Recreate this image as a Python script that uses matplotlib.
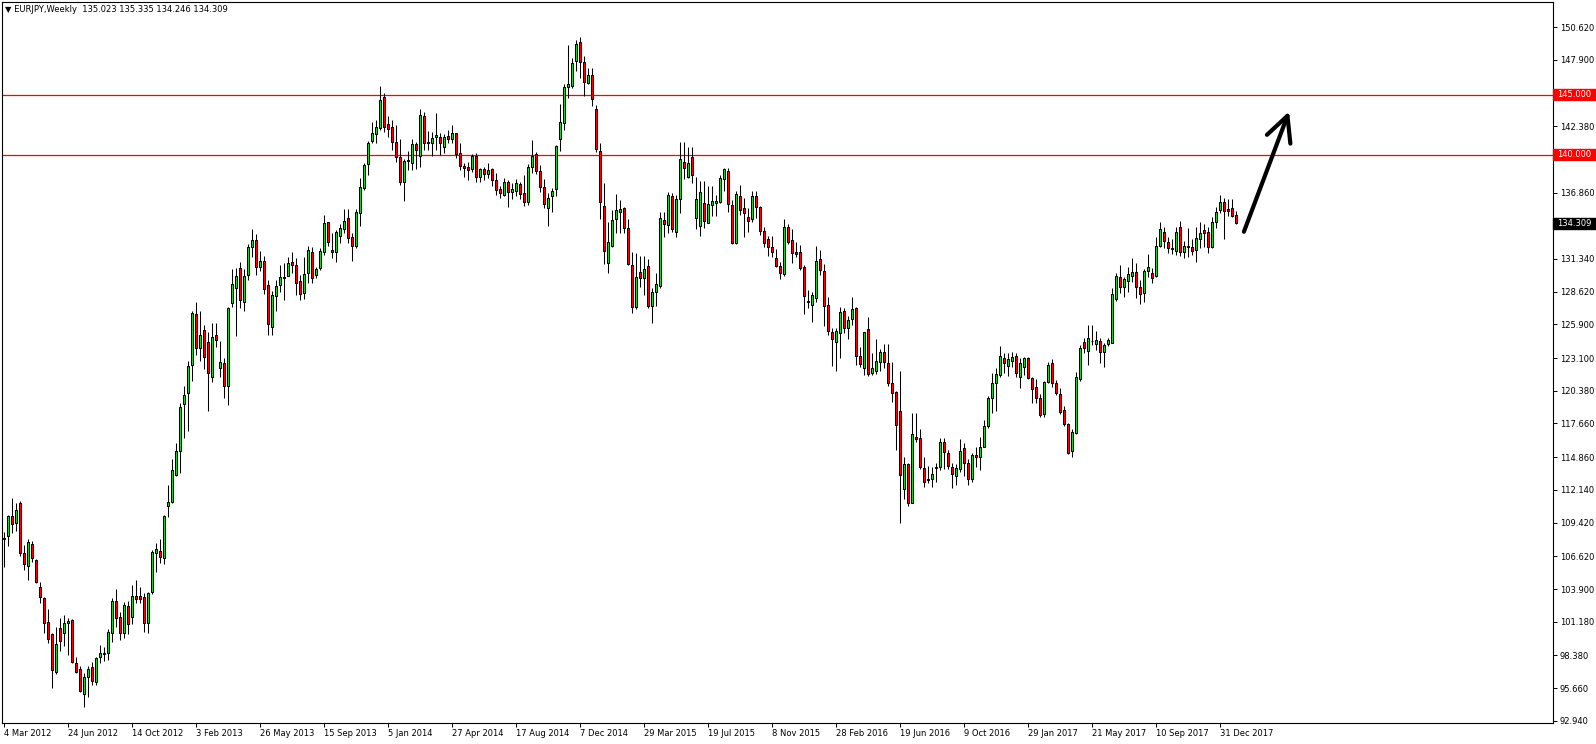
import numpy as np
import pandas as pd
import matplotlib
matplotlib.use('Agg')
import matplotlib.pyplot as plt
from matplotlib.patches import Rectangle
from matplotlib.transforms import blended_transform_factory

# weekly EURJPY candles, first week starts 4 Mar 2012
opens = [
    108.04, 108.31, 109.98, 109.37, 111.08, 106.87, 105.85, 107.65, 106.32, 104.05,
    103.13, 101.14, 100.17, 97.04, 100.64, 100.22, 101.05, 101.33, 97.73, 97.23,
    95.18, 96.62, 97.45, 96.21, 98.23, 98.51, 98.62, 100.28, 102.91, 101.55,
    100.22, 102.49, 101.61, 103.33, 103.33, 103.22, 101.05, 103.69, 106.87, 107.07,
    106.46, 110.84, 111.16, 113.38, 115.40, 119.28, 120.22, 122.52, 126.73, 123.91,
    125.43, 124.43, 121.50, 124.99, 122.25, 122.66, 120.78, 127.65, 128.90, 130.60,
    127.79, 130.00, 132.30, 132.90, 130.70, 131.20, 129.17, 125.65, 128.29, 129.17,
    129.73, 129.90, 131.10, 130.80, 129.50, 128.49, 130.15, 131.92, 130.01, 130.56,
    131.95, 134.39, 132.09, 131.95, 133.28, 133.86, 134.72, 133.14, 132.45, 135.19,
    137.27, 139.21, 141.18, 141.70, 142.20, 144.78, 142.53, 142.28, 141.04, 139.79,
    137.71, 139.49, 139.35, 140.90, 139.93, 143.23, 141.01, 141.01, 141.51, 141.51,
    140.68, 141.57, 141.34, 141.79, 140.12, 139.10, 138.96, 138.79, 139.90, 138.13,
    138.79, 138.40, 138.79, 137.88, 137.13, 136.66, 137.71, 136.94, 137.02, 137.55,
    136.80, 136.11, 139.01, 140.04, 138.65, 137.35, 135.61, 136.60, 137.13, 141.29,
    142.62, 145.66, 145.75, 147.83, 149.35, 147.69, 145.99, 146.63, 143.78, 140.32,
    135.74, 130.98, 132.45, 134.64, 135.22, 135.60, 133.89, 130.84, 127.32, 130.23,
    129.73, 130.75, 127.43, 128.62, 129.12, 134.58, 134.16, 136.57, 133.61, 136.30,
    139.37, 138.18, 139.79, 134.72, 134.08, 135.97, 134.36, 135.83, 135.96, 136.10,
    137.99, 138.65, 135.83, 132.69, 136.57, 135.55, 134.80, 134.63, 136.57, 135.63,
    133.66, 132.97, 132.31, 131.39, 130.75, 130.09, 133.97, 132.92, 131.92, 131.92,
    130.70, 127.84, 127.51, 128.12, 131.31, 130.34, 127.51, 125.27, 124.46, 125.16,
    127.01, 125.63, 126.32, 127.23, 123.27, 122.30, 125.49, 121.83, 122.05, 122.80,
    123.58, 122.66, 121.00, 120.31, 118.73, 112.19, 114.29, 111.08, 116.51, 116.43,
    113.93, 113.00, 113.02, 114.00, 114.07, 116.09, 115.24, 114.01, 113.29, 113.85,
    115.65, 114.40, 113.02, 115.04, 114.84, 115.73, 117.45, 119.75, 120.99, 121.69,
    123.07, 122.44, 122.88, 123.27, 121.55, 122.38, 123.13, 121.41, 120.66, 119.75,
    118.45, 121.13, 122.66, 120.99, 120.11, 118.78, 117.61, 115.40, 116.89, 121.36,
    124.40, 123.71, 124.48, 124.26, 124.54, 123.63, 124.26, 124.38, 127.98, 129.81,
    128.98, 129.53, 129.92, 130.28, 128.98, 128.54, 130.36, 130.14, 129.92, 132.41,
    133.55, 132.72, 132.25, 132.03, 133.97, 131.94, 132.36, 132.36, 132.08, 132.97,
    133.74, 133.61, 132.36, 134.44, 135.41, 136.10, 135.49, 135.55, 135.023,
]
highs = [
    108.67, 110.06, 111.44, 111.03, 111.25, 107.57, 108.04, 107.93, 106.37, 104.46,
    103.27, 102.22, 100.28, 100.78, 101.47, 101.75, 101.47, 101.41, 98.23, 97.51,
    96.90, 97.51, 97.87, 98.23, 99.25, 99.11, 100.56, 103.13, 103.91, 102.02,
    102.86, 102.94, 104.24, 104.66, 104.10, 103.55, 103.69, 107.15, 107.70, 108.04,
    110.06, 112.55, 114.68, 116.07, 119.34, 120.78, 122.88, 127.01, 127.73, 127.01,
    125.85, 125.24, 126.04, 126.04, 124.52, 123.08, 127.37, 130.50, 130.60, 131.10,
    130.50, 132.60, 133.80, 133.40, 132.00, 131.60, 129.60, 128.70, 129.60, 130.80,
    131.00, 131.50, 131.90, 131.40, 130.00, 131.53, 132.42, 132.36, 130.70, 132.23,
    135.00, 134.44, 133.47, 133.75, 134.25, 135.47, 135.47, 133.47, 135.47, 138.04,
    139.35, 141.15, 142.76, 142.89, 145.72, 145.17, 143.23, 142.89, 142.48, 141.29,
    139.62, 140.32, 141.29, 141.09, 143.78, 143.59, 141.98, 141.92, 143.50, 141.79,
    141.70, 142.06, 142.48, 141.84, 140.95, 139.35, 139.43, 140.04, 140.12, 138.87,
    139.01, 139.29, 138.87, 138.46, 137.43, 138.04, 137.91, 137.63, 137.99, 137.77,
    138.32, 139.21, 141.23, 140.26, 139.15, 137.99, 136.80, 137.21, 140.82, 144.20,
    145.86, 149.13, 148.02, 149.54, 149.77, 148.21, 147.19, 147.24, 144.14, 140.95,
    137.63, 134.44, 135.41, 136.74, 136.24, 135.69, 134.66, 131.94, 131.86, 131.59,
    131.59, 131.31, 128.90, 130.14, 135.27, 135.27, 136.93, 136.80, 136.66, 141.09,
    141.09, 140.62, 140.67, 138.12, 137.82, 137.82, 137.41, 137.41, 136.66, 138.32,
    138.93, 138.93, 136.24, 137.02, 137.49, 136.38, 135.55, 137.02, 137.02, 135.74,
    134.02, 133.25, 133.25, 132.14, 131.12, 134.63, 134.25, 133.80, 132.78, 132.50,
    130.84, 128.76, 128.62, 132.42, 132.08, 130.89, 128.20, 125.57, 125.63, 127.32,
    127.29, 126.60, 128.20, 127.37, 124.05, 125.30, 126.49, 123.49, 124.66, 123.85,
    124.27, 124.27, 122.75, 120.39, 122.05, 114.90, 114.40, 118.51, 118.56, 117.18,
    114.85, 114.13, 114.07, 114.40, 116.43, 116.43, 115.46, 114.40, 114.29, 116.34,
    116.01, 114.68, 115.18, 115.68, 116.51, 117.95, 119.94, 121.88, 122.24, 124.10,
    123.49, 123.49, 123.63, 123.49, 123.07, 123.21, 123.21, 121.55, 121.33, 120.11,
    121.22, 122.80, 122.99, 121.27, 120.58, 119.11, 117.73, 117.17, 121.97, 124.18,
    124.74, 125.84, 125.84, 125.37, 124.74, 124.37, 124.74, 128.89, 130.20, 130.83,
    129.86, 130.64, 131.39, 130.97, 129.59, 130.47, 131.75, 130.56, 133.13, 134.41,
    133.97, 133.13, 132.97, 133.97, 134.52, 132.86, 133.94, 132.97, 133.97, 134.44,
    134.25, 133.97, 134.85, 135.63, 136.66, 136.38, 136.32, 136.32, 135.335,
]
lows = [
    105.76, 107.48, 108.54, 108.76, 106.65, 105.49, 104.66, 106.18, 104.43, 102.77,
    100.28, 99.39, 95.65, 96.84, 98.78, 99.17, 98.42, 97.73, 96.90, 95.37,
    94.13, 94.96, 95.93, 95.93, 97.78, 97.95, 98.00, 99.53, 100.78, 99.67,
    99.81, 100.17, 101.00, 102.77, 102.77, 100.36, 100.28, 103.49, 105.35, 106.10,
    105.99, 109.92, 111.08, 113.30, 113.57, 116.48, 117.06, 121.22, 123.35, 122.85,
    122.19, 118.73, 121.14, 124.05, 121.50, 119.75, 119.20, 127.32, 124.93, 127.30,
    127.04, 129.60, 131.50, 130.00, 130.30, 128.40, 125.00, 125.02, 127.00, 128.60,
    127.90, 129.90, 130.15, 128.34, 127.93, 127.99, 129.32, 129.32, 129.73, 130.42,
    131.67, 132.42, 131.40, 131.12, 132.64, 133.53, 132.64, 131.20, 132.23, 134.11,
    137.07, 138.32, 140.95, 140.95, 142.06, 141.92, 141.51, 140.40, 139.43, 137.49,
    136.19, 138.74, 138.74, 138.79, 139.01, 140.40, 140.40, 139.90, 140.40, 139.98,
    140.18, 141.01, 140.95, 139.71, 138.74, 138.13, 137.91, 138.60, 137.71, 137.71,
    137.90, 138.10, 137.43, 136.66, 136.38, 136.60, 135.69, 136.33, 136.60, 136.33,
    135.77, 135.83, 138.46, 138.38, 136.88, 135.61, 134.11, 135.22, 136.60, 140.32,
    142.06, 144.75, 145.58, 146.97, 146.36, 144.92, 145.86, 144.06, 140.21, 134.66,
    130.90, 130.15, 132.36, 133.47, 133.47, 133.47, 130.84, 126.87, 127.15, 129.04,
    128.34, 127.23, 126.04, 127.43, 128.90, 133.14, 133.47, 133.61, 133.14, 135.13,
    137.96, 138.04, 137.63, 133.80, 133.25, 133.88, 134.30, 134.91, 134.91, 136.02,
    137.02, 135.27, 132.58, 132.58, 135.00, 133.14, 133.61, 134.44, 134.72, 133.33,
    132.36, 131.61, 131.47, 130.64, 129.65, 129.92, 132.58, 130.97, 131.47, 130.42,
    126.76, 127.23, 126.13, 127.79, 130.01, 125.77, 125.02, 122.44, 122.05, 123.08,
    125.16, 124.66, 125.85, 122.52, 122.33, 121.69, 121.61, 121.69, 121.78, 122.05,
    122.25, 120.78, 119.48, 115.46, 109.36, 111.36, 110.80, 111.02, 116.15, 113.85,
    112.36, 112.69, 112.41, 112.83, 113.80, 113.85, 113.85, 112.27, 112.54, 113.65,
    113.29, 112.54, 112.82, 114.01, 113.79, 115.68, 117.25, 118.56, 118.72, 121.55,
    121.83, 121.61, 122.38, 121.49, 120.58, 121.69, 121.33, 119.33, 119.33, 118.22,
    118.22, 120.99, 120.72, 120.03, 118.45, 117.45, 115.12, 114.84, 116.78, 121.22,
    123.49, 122.52, 124.18, 123.77, 122.66, 122.38, 124.10, 124.32, 127.87, 128.48,
    128.20, 128.62, 129.45, 128.06, 127.59, 127.79, 129.86, 129.36, 129.81, 132.30,
    132.22, 131.86, 131.75, 131.67, 131.58, 131.39, 131.53, 131.67, 131.11, 132.22,
    132.36, 131.86, 132.22, 133.88, 135.19, 132.97, 134.91, 134.80, 134.246,
]
closes = [
    108.12, 109.98, 109.28, 110.48, 106.87, 105.96, 107.79, 106.46, 104.52, 103.27,
    101.05, 99.72, 97.17, 99.34, 99.61, 101.05, 101.25, 97.87, 97.04, 95.46,
    96.62, 97.26, 96.29, 98.14, 98.56, 98.62, 100.31, 102.91, 101.47, 100.28,
    102.58, 101.00, 103.33, 103.05, 103.05, 101.05, 103.55, 107.01, 107.21, 106.54,
    109.98, 111.11, 113.79, 115.37, 119.06, 120.03, 122.44, 126.82, 123.96, 125.02,
    123.22, 121.83, 124.82, 124.60, 122.74, 120.78, 127.23, 129.23, 129.92, 127.93,
    129.92, 132.30, 132.90, 130.70, 131.20, 128.81, 125.90, 128.34, 129.09, 129.81,
    129.87, 131.00, 130.80, 129.31, 128.40, 130.09, 132.09, 129.73, 130.48, 132.00,
    134.30, 132.78, 131.95, 133.56, 133.89, 134.50, 133.06, 132.45, 135.22, 137.30,
    139.15, 140.95, 141.78, 142.34, 144.56, 142.28, 142.14, 141.04, 139.79, 137.77,
    139.51, 139.57, 140.90, 140.40, 143.31, 141.01, 141.09, 141.37, 141.62, 141.01,
    141.45, 141.29, 141.79, 140.04, 139.10, 138.93, 138.74, 139.90, 138.13, 138.79,
    138.40, 138.74, 137.88, 137.05, 136.80, 137.71, 136.88, 137.16, 137.63, 136.72,
    136.11, 138.96, 139.90, 138.65, 137.35, 135.88, 136.38, 136.99, 140.73, 142.70,
    145.61, 145.86, 147.60, 149.18, 147.74, 146.08, 146.63, 144.64, 140.45, 136.05,
    132.03, 132.72, 134.58, 135.41, 135.49, 133.89, 130.92, 127.37, 129.81, 129.73,
    130.48, 127.46, 128.57, 129.23, 134.72, 134.22, 136.66, 133.80, 136.30, 139.62,
    138.87, 139.29, 138.32, 136.30, 136.88, 134.52, 135.88, 136.16, 136.19, 138.04,
    138.79, 135.88, 132.64, 136.74, 135.41, 135.13, 134.52, 136.57, 135.63, 133.69,
    132.69, 132.36, 131.89, 130.78, 130.14, 133.97, 132.78, 131.81, 131.75, 130.56,
    128.26, 127.73, 128.34, 131.17, 130.42, 127.46, 125.38, 124.66, 125.38, 126.90,
    125.63, 126.27, 127.18, 123.30, 122.61, 125.24, 121.78, 122.25, 122.89, 123.58,
    122.75, 121.06, 120.17, 117.54, 113.38, 114.29, 111.08, 116.79, 116.35, 114.07,
    112.83, 113.03, 113.46, 114.07, 116.09, 115.32, 114.15, 113.46, 113.93, 115.37,
    114.40, 113.02, 115.04, 114.84, 115.73, 117.45, 119.75, 121.00, 121.77, 123.27,
    122.66, 122.99, 123.16, 121.83, 122.71, 123.13, 121.41, 120.50, 119.75, 118.36,
    121.13, 122.52, 120.99, 120.22, 118.64, 117.61, 115.23, 116.98, 121.49, 123.91,
    123.91, 124.74, 124.54, 124.60, 123.57, 124.18, 124.60, 128.42, 129.92, 129.03,
    129.64, 130.09, 130.28, 129.03, 128.42, 130.34, 130.70, 129.78, 132.41, 133.80,
    132.86, 132.22, 132.14, 133.61, 131.94, 132.41, 132.41, 132.03, 133.05, 133.52,
    133.52, 132.30, 134.44, 135.27, 136.10, 135.35, 135.35, 134.91, 134.309,
]

price_ticks = [150.620, 147.900, 145.180, 142.380, 139.620, 136.860, 134.100,
               131.340, 128.620, 125.900, 123.100, 120.380, 117.660, 114.860,
               112.140, 109.420, 106.620, 103.900, 101.180, 98.380, 95.660, 92.940]
levels = [145.000, 140.000]
last_price = 134.309
title = '\u25bc EURJPY,Weekly  135.023 135.335 134.246 134.309'

# hand-drawn arrow (bar index, price)
arrow_start = (310.1, 133.6)
arrow_end = (321.4, 143.6)

opens = np.array(opens)
highs = np.array(highs)
lows = np.array(lows)
closes = np.array(closes)
n = len(closes)
x = np.arange(n)
weeks = pd.date_range('2012-03-04', periods=n, freq='7D')

plt.rcParams['font.family'] = ['DejaVu Sans']
fig = plt.figure(figsize=(15.96, 7.44), dpi=100)
ax = fig.add_axes([2 / 1596, 21 / 744, 1551 / 1596, 721 / 744])

# candles
ax.vlines(x, lows, highs, color='black', linewidth=0.75, zorder=2)
up = closes >= opens
body_col = np.where(up, '#32cd32', '#ff0000')
bottoms = np.minimum(opens, closes)
heights = np.maximum(np.abs(closes - opens), 0.03)
ax.bar(x, heights, bottom=bottoms, width=0.5, color=body_col,
       edgecolor='black', linewidth=0.75, zorder=3)

# horizontal levels
for lv in levels:
    ax.axhline(lv, color='red', linewidth=0.9, zorder=1)

ax.set_xlim(-0.375, 387.375)
ax.set_ylim(92.76, 152.70)

# price axis on the right; labels that sit under the price boxes are left blank
covered = [v for v in price_ticks
           if any(abs(v - b) < 0.8 for b in levels + [last_price])]
ax.yaxis.tick_right()
ax.set_yticks(price_ticks)
ax.set_yticklabels(['' if t in covered else f'{t:.3f}' for t in price_ticks])
ax.tick_params(axis='y', direction='out', length=3, width=0.7, pad=2, labelsize=6)

# date axis
idx = list(range(0, n, 16))
ax.set_xticks(idx)
ax.set_xticklabels([f'{weeks[i].day} {weeks[i].strftime("%b %Y")}' for i in idx],
                   ha='left')
ax.tick_params(axis='x', direction='out', length=3, width=0.7, pad=1.5, labelsize=6)

for s in ax.spines.values():
    s.set_linewidth(0.8)
    s.set_color('black')

# price boxes on the right axis
tr = blended_transform_factory(ax.transAxes, ax.transData)
box_w = 43 / 1551
box_h = 5.5 / 12.03
for val, fc in [(levels[0], 'red'), (levels[1], 'red'), (last_price, 'black')]:
    ax.add_patch(Rectangle((1.0, val - box_h), box_w, 2 * box_h, transform=tr,
                           facecolor=fc, edgecolor=fc, clip_on=False, zorder=6))
    ax.text(1.0 + 4 / 1551, val, f'{val:.3f}', transform=tr, ha='left', va='center',
            color='white', fontsize=6, zorder=7, clip_on=False)

# arrow
ax.annotate('', xy=arrow_end, xytext=arrow_start,
            arrowprops=dict(arrowstyle='->,head_length=0.9,head_width=0.45',
                            lw=3, color='black', mutation_scale=20,
                            shrinkA=0, shrinkB=0), zorder=8)

fig.text(5 / 1596, 1 - 10 / 744, title, fontsize=6, va='center', ha='left')

fig.savefig('out.png', dpi=100, facecolor='white')
